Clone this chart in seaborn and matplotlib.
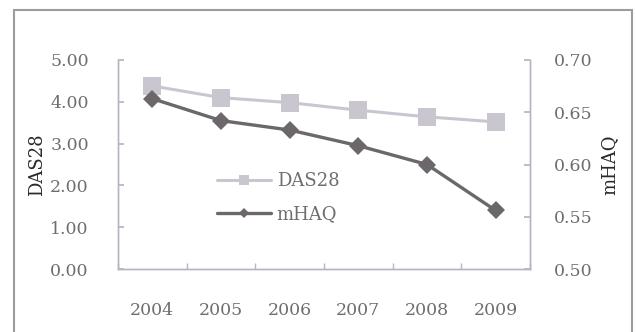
import matplotlib
matplotlib.use("Agg")
import matplotlib.pyplot as plt
from matplotlib.patches import Rectangle
import seaborn as sns
import pandas as pd
import numpy as np

years = ["2004", "2005", "2006", "2007", "2008", "2009"]
das28 = [4.38, 4.10, 3.98, 3.80, 3.64, 3.52]
mhaq = [0.663, 0.642, 0.633, 0.618, 0.600, 0.556]
left_ticks = [0.0, 1.0, 2.0, 3.0, 4.0, 5.0]
right_ticks = [0.50, 0.55, 0.60, 0.65, 0.70]

sns.set_theme(style="white")
plt.rcParams["font.family"] = ["DejaVu Serif"]

das_color = "#cac6d0"
haq_color = "#6b676a"
text_color = "#6e6e6e"
spine_color = "#b6b6c0"
tick_font = {"family": "DejaVu Serif", "size": 12.5}

df = pd.DataFrame({"pos": np.arange(len(years)), "DAS28": das28, "mHAQ": mhaq})

fig = plt.figure(figsize=(6.36, 3.32), dpi=100)
ax = fig.add_axes([118 / 636, 1 - 269 / 332, (530 - 118) / 636, (269 - 60) / 332])
ax2 = ax.twinx()

sns.lineplot(data=df, x="pos", y="DAS28", ax=ax, color=das_color, linewidth=2.2,
             marker="s", markersize=13, markeredgewidth=0, label="DAS28", legend=False)
sns.lineplot(data=df, x="pos", y="mHAQ", ax=ax2, color=haq_color, linewidth=2.4,
             marker="D", markersize=9, markeredgewidth=0, label="mHAQ", legend=False)

ax.set_xlim(-0.5, len(years) - 0.5)
ax.set_ylim(left_ticks[0], left_ticks[-1])
ax2.set_ylim(right_ticks[0], right_ticks[-1])

# category labels centred, tick marks on the boundaries
ax.set_xticks(df["pos"])
ax.set_xticklabels(years, **tick_font, color=text_color)
ax.set_xticks(np.arange(len(years) + 1) - 0.5, minor=True)
ax.tick_params(axis="x", which="major", length=0, pad=24)
ax.tick_params(axis="x", which="minor", direction="in", length=4, color=spine_color, bottom=True)

ax.set_yticks(left_ticks)
ax.set_yticklabels([f"{v:.2f}" for v in left_ticks], **tick_font, color=text_color)
ax.tick_params(axis="y", direction="in", length=4, color=spine_color, left=True, pad=21)

ax2.set_yticks(right_ticks)
ax2.set_yticklabels([f"{v:.2f}" for v in right_ticks], **tick_font, color=text_color)
ax2.tick_params(axis="y", direction="in", length=4, color=spine_color, right=True, pad=17)

ax.set_xlabel("")
ax.set_ylabel("DAS28", fontsize=13, color="#2a2a2a", labelpad=3)
ax2.set_ylabel("mHAQ", fontsize=13, color="#2a2a2a", labelpad=6)

for a in (ax, ax2):
    a.spines["top"].set_visible(False)
    for s in ("left", "right", "bottom"):
        a.spines[s].set_color(spine_color)
        a.spines[s].set_linewidth(1.0)
    a.grid(False)
    a.patch.set_visible(False)

h1, l1 = ax.get_legend_handles_labels()
h2, l2 = ax2.get_legend_handles_labels()
fig.legend(h1 + h2, l1 + l2, loc="upper left", bbox_to_anchor=(217 / 636, 1 - 172 / 332),
           frameon=False, borderpad=0, borderaxespad=0, handlelength=3.0, handletextpad=0.3,
           labelspacing=0.85, markerscale=0.6, prop={"size": 13}, labelcolor=text_color)

# frame around the whole chart
fig.patches.append(Rectangle((14 / 636, -0.05), (632 - 14) / 636, 1.05 - 10 / 332,
                             transform=fig.transFigure, fill=False,
                             edgecolor="#9c9c9c", linewidth=1.5))

fig.savefig("out.png", dpi=100)
